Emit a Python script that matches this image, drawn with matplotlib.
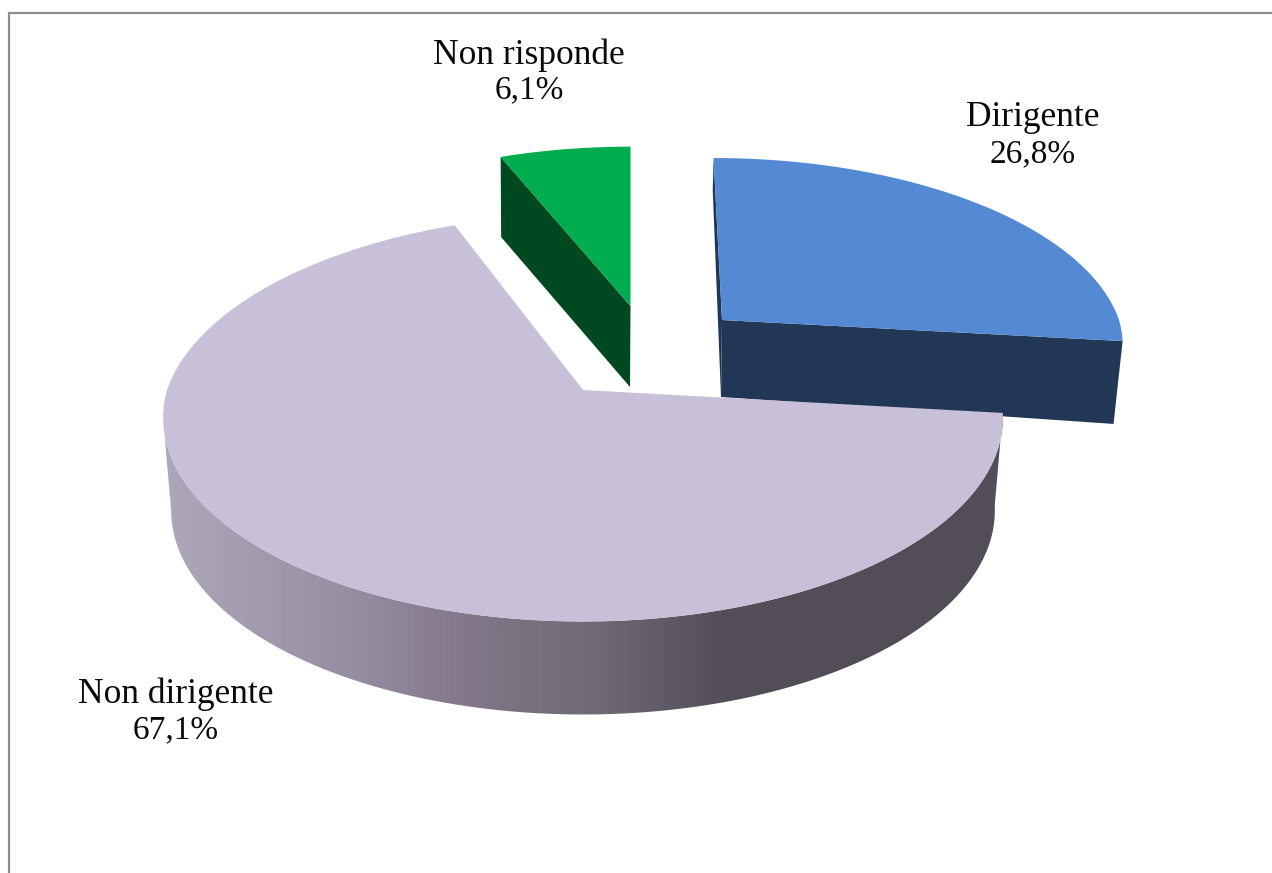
import numpy as np
import matplotlib
matplotlib.use("Agg")
import matplotlib.pyplot as plt
from matplotlib.patches import Polygon
from matplotlib.colors import LinearSegmentedColormap

categories = ["Dirigente", "Non dirigente", "Non risponde"]
shares = [26.8, 67.1, 6.1]
share_labels = ["26,8%", "67,1%", "6,1%"]

W, H = 1272, 873
fig = plt.figure(figsize=(W / 100, H / 100), dpi=100)
ax = fig.add_axes([0, 0, 1, 1])
ax.set_xlim(0, W)
ax.set_ylim(H, 0)
ax.axis("off")

edges = np.radians(np.concatenate([[0], np.cumsum(shares)]) * 3.6)
K = 0.136


def project(theta, apex, A, B, skew=0.0):
    theta = np.atleast_1d(theta)
    u, v = np.sin(theta), np.cos(theta)
    s = 1 / (1 + K * v)
    dy = -B * v * s
    return np.column_stack([apex[0] + A * u * s + skew * np.minimum(dy, 0), apex[1] + dy])


def arc(i, apex, A, B, skew=0.0, lo=None, hi=None):
    a = edges[i] if lo is None else lo
    b = edges[i + 1] if hi is None else hi
    return project(np.linspace(a, b, 200), apex, A, B, skew)


def poly(pts, color, z):
    p = Polygon(pts, closed=True, facecolor=color, edgecolor="none", zorder=z)
    ax.add_patch(p)
    return p


# frame of the chart area (open on the right and bottom)
ax.plot([9, 9, W], [H, 13, 13], color="#8c8c8c", lw=1.6, solid_joinstyle="miter", zorder=1)

# Non risponde
g_top = (630.5, 306)
g_bot = (630, 387)
g_rim = arc(2, g_top, 391, 181)
g_low = arc(2, g_bot, 388, 182)
poly(np.vstack([g_rim[:1], [g_top], [g_bot], g_low[:1]]), "#004820", 2)
poly(np.vstack([[g_top], g_rim]), "#00ad4e", 3)

# Dirigente
b_top = (722, 320)
b_bot = (721, 397)
b_rim = arc(0, b_top, 397, 184, 0.052)
b_low = arc(0, b_bot, 389, 235, 0.04)
poly(np.vstack([b_rim[:1], [b_top], [b_bot], b_low[:1]]), "#223756", 4)
poly(np.vstack([[b_top], b_rim[-1:], b_low[-1:], [b_bot]]), "#223756", 4)
poly(np.vstack([[b_top], b_rim]), "#548ad3", 5)

# Non dirigente: the wall ends where the rim reaches its left-most point
m_top = (583, 390)
m_bot = (583, 483)
hi_wall = 2 * np.pi - np.arccos(-K)
m_rim = arc(1, m_top, 416, 200, -0.06)
wall_up = arc(1, m_top, 416, 200, -0.06, hi=hi_wall)
wall_lo = arc(1, m_bot, 408, 200, -0.06, hi=hi_wall)
wall = poly(np.vstack([wall_up, wall_lo[::-1]]), "none", 6)
cmap = LinearSegmentedColormap.from_list(
    "wall",
    [(0.0, "#aea6b9"), (0.22, "#988ea2"), (0.34, "#857b8d"), (0.40, "#7c7383"),
     (0.52, "#706975"), (0.58, "#625d68"), (0.67, "#524d57"), (1.0, "#534e58")],
)
img = ax.imshow(np.linspace(0, 1, 512)[None, :], cmap=cmap, aspect="auto",
                extent=(165, 1004, 730, 400), zorder=6)
img.set_clip_path(wall)
poly(np.vstack([[m_top], m_rim]), "#c8bfd8", 7)

ax.set_xlim(0, W)
ax.set_ylim(H, 0)

# labels
label_xy = [(1033, 118, 154), (176, 694, 730), (529, 55, 90)]
for name, value, (x, y1, y2) in zip(categories, share_labels, label_xy):
    ax.text(x, y1, name, ha="center", va="center", family="Liberation Serif",
            fontsize=25.5, color="#0a0a0a", zorder=9)
    ax.text(x, y2, value, ha="center", va="center", family="Liberation Serif",
            fontsize=24, color="#0a0a0a", zorder=9)

fig.savefig("out.png", dpi=100, facecolor="white")
